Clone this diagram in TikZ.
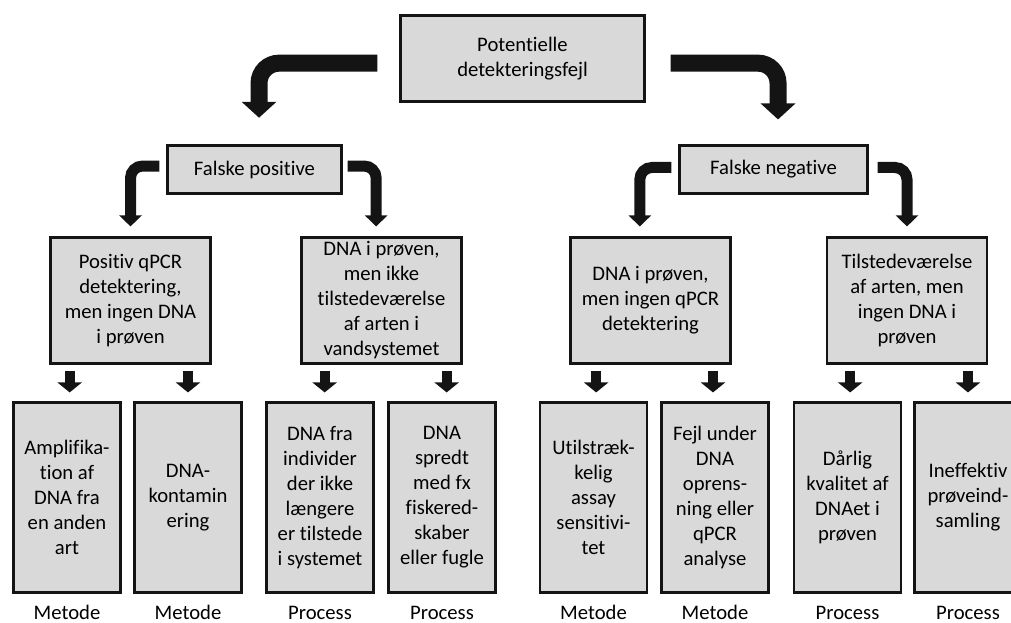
\documentclass[tikz,border=0pt]{standalone}
\usepackage{fontspec}
\setmainfont{Carlito}[Ligatures=NoCommon]
\usetikzlibrary{arrows.meta,positioning}
\definecolor{graa}{RGB}{217,217,217}
\definecolor{sort}{RGB}{20,20,20}
\tikzset{
  boks/.style={draw=sort, line width=1.6pt, fill=graa, align=center, inner sep=1pt, font=\fontsize{15.5}{18.75}\selectfont},
  hoved/.style={boks, minimum width=183pt, minimum height=64.5pt},
  gren/.style={boks, minimum height=36pt},
  mellem/.style={boks, minimum width=120pt, minimum height=94.5pt},
  blad/.style={boks, minimum width=80.25pt, minimum height=142.5pt},
  storpil/.style={draw=sort, line width=12.75pt, rounded corners=15pt, -{Triangle[width=25.5pt,length=12pt]}},
  mellempil/.style={draw=sort, line width=8.25pt, rounded corners=9pt, -{Triangle[width=16.5pt,length=8.25pt]}},
  lillepil/.style={draw=sort, line width=7.5pt, -{Triangle[width=18pt,length=7.5pt]}},
  etiket/.style={inner sep=0pt, text height=11pt, text depth=3pt, font=\fontsize{15.5}{18.75}\selectfont},
}

\begin{document}
\begin{tikzpicture}[x=0.75pt, y=-0.75pt]
  \useasboundingbox (0,0) rectangle (1011,623);
  % top level
  \node[hoved] (top) at (522.5,58.5) {Potentielle\\detekteringsfejl};
  \node[gren, minimum width=130.5pt] (fp) at (254.5,169.5) {Falske positive};
  \node[gren, minimum width=141pt] (fn) at (773.5,169.5) {Falske negative};
  \draw[storpil, shorten <=16.5pt] ([yshift=-3.5pt]top.west) -| ([xshift=3.4pt, yshift=20pt]fp.north);
  \draw[storpil, shorten <=18.75pt] ([yshift=-3.5pt]top.east) -| ([xshift=3.4pt, yshift=18.75pt]fn.north);
  % second level
  \node[mellem] (m1) at (130.5,300.5) {Positiv qPCR\\detektering,\\men ingen DNA\\i prøven};
  \node[mellem] (m2) at (381.5,300.5) {DNA i prøven,\\men ikke\\tilstedeværelse\\af arten i\\vandsystemet};
  \node[mellem] (m3) at (650.5,300.5) {DNA i prøven,\\men ingen qPCR\\detektering};
  \node[mellem] (m4) at (907,300.5) {Tilstedeværelse\\af arten, men\\ingen DNA i\\prøven};
  \draw[mellempil, shorten <=5.25pt] ([yshift=2.6pt]fp.west) -| ([yshift=7.5pt]m1.north);
  \draw[mellempil, shorten <=3.75pt] ([yshift=2.6pt]fp.east) -| ([xshift=-4pt, yshift=7.5pt]m2.north);
  \draw[mellempil, shorten <=5.25pt] ([yshift=1.5pt]fn.west) -| ([xshift=-8pt, yshift=7.5pt]m3.north);
  \draw[mellempil, shorten <=6.75pt] ([yshift=1.5pt]fn.east) -| ([yshift=7.5pt]m4.north);
  % bottom level
  \node[blad] (b1) at (67,497.5) {Amplifika-\\tion af\\DNA fra\\en anden\\art};
  \node[blad] (b2) at (188,497.5) {DNA-\\kontamin\\ering};
  \node[blad] (b3) at (320,497.5) {DNA fra\\individer\\der ikke\\længere\\er tilstede\\i systemet};
  \node[blad] (b4) at (442,497.5) {DNA\\spredt\\med fx\\fiskered-\\skaber\\eller fugle};
  \node[blad] (b5) at (593.5,497.5) {Utilstræk-\\kelig\\assay\\sensitivi-\\tet};
  \node[blad] (b6) at (715,497.5) {Fejl under\\DNA\\oprens-\\ning eller\\qPCR\\analyse};
  \node[blad] (b7) at (847.5,497.5) {Dårlig\\kvalitet af\\DNAet i\\prøven};
  \node[blad] (b8) at (968,497.5) {Ineffektiv\\prøveind-\\samling};
  \draw[lillepil, shorten <=4.5pt, shorten >=6.75pt] ([xshift=2pt]b1.north |- m1.south) -- ([xshift=2pt]b1.north);
  \draw[lillepil, shorten <=4.5pt, shorten >=6.75pt] (b2.north |- m1.south) -- (b2.north);
  \draw[lillepil, shorten <=4.5pt, shorten >=6.75pt] ([xshift=3.5pt]b3.north |- m2.south) -- ([xshift=3.5pt]b3.north);
  \draw[lillepil, shorten <=4.5pt, shorten >=6.75pt] ([xshift=3.5pt]b4.north |- m2.south) -- ([xshift=3.5pt]b4.north);
  \draw[lillepil, shorten <=4.5pt, shorten >=6.75pt] ([xshift=2pt]b5.north |- m3.south) -- ([xshift=2pt]b5.north);
  \draw[lillepil, shorten <=4.5pt, shorten >=6.75pt] ([xshift=-1.5pt]b6.north |- m3.south) -- ([xshift=-1.5pt]b6.north);
  \draw[lillepil, shorten <=4.5pt, shorten >=6.75pt] ([xshift=2pt]b7.north |- m4.south) -- ([xshift=2pt]b7.north);
  \draw[lillepil, shorten <=4.5pt, shorten >=6.75pt] (b8.north |- m4.south) -- (b8.north);
  % labels
  \node[etiket, below=8pt of b1] (e1) {Metode};
  \node[etiket, below=8pt of b2] (e2) {Metode};
  \node[etiket, below=8pt of b3] (e3) {Process};
  \node[etiket, below=8pt of b4] (e4) {Process};
  \node[etiket, below=8pt of b5] (e5) {Metode};
  \node[etiket, below=8pt of b6] (e6) {Metode};
  \node[etiket, below=8pt of b7] (e7) {Process};
  \node[etiket, below=8pt of b8] (e8) {Process};
\end{tikzpicture}
\end{document}
